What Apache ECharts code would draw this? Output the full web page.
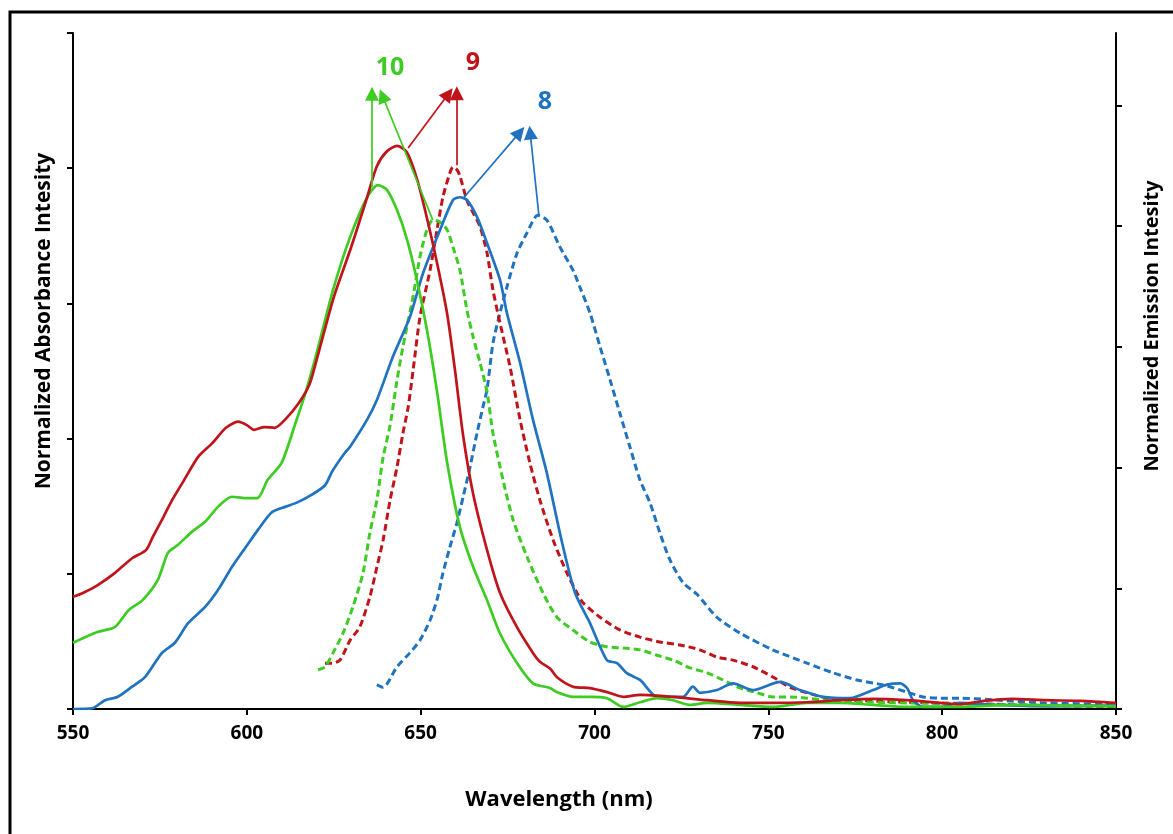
<!DOCTYPE html>
<html>
<head>
<meta charset="utf-8">
<script src="https://cdn.jsdelivr.net/npm/echarts@6/dist/echarts.min.js"></script>
<style>html,body{margin:0;padding:0;background:#fff}#c{width:1173px;height:834px}</style>
</head>
<body>
<div id="c"></div>
<script>
// ---- data: [wavelength (nm), normalized intensity] ----
const xTicks = [550, 600, 650, 700, 750, 800, 850];
const xName = 'Wavelength (nm)';
const yLeftName = 'Normalized Absorbance Intesity';
const yRightName = 'Normalized Emission Intesity';
const labels = ['10', '9', '8'];

// Absorbance (solid, left axis)
const abs9 = [[550,0.166],[553,0.172],[557,0.183],[562,0.201],[567,0.223],[571,0.235],[573,0.255],[576,0.284],[578.5,0.309],[582,0.339],[586,0.373],[590,0.393],[594,0.416],[597.5,0.425],[600,0.420],[602,0.413],[605,0.417],[608,0.416],[611,0.428],[615,0.453],[618,0.48],[620,0.515],[625,0.609],[630,0.683],[634.6,0.757],[637.4,0.803],[640.3,0.825],[643.2,0.833],[646,0.824],[649,0.783],[652,0.722],[654.7,0.660],[657.6,0.585],[659.9,0.500],[662.2,0.405],[665.1,0.318],[669.1,0.235],[672.8,0.172],[677.7,0.121],[682.3,0.083],[684.5,0.069],[687.2,0.060],[689.2,0.047],[693.8,0.033],[698.7,0.031],[703.6,0.025],[708.2,0.018],[713.1,0.021],[722.6,0.018],[732.4,0.013],[741.8,0.009],[751.3,0.009],[761.1,0.010],[770.6,0.013],[780.1,0.015],[789.9,0.013],[799.4,0.009],[805,0.007],[812,0.012],[820,0.015],[830,0.013],[840,0.012],[850,0.009]];
const abs10 = [[550,0.098],[557,0.114],[562,0.121],[566,0.146],[570,0.161],[574.4,0.191],[577.3,0.231],[580.2,0.243],[584.2,0.262],[588,0.277],[591.7,0.299],[595.7,0.314],[599.5,0.312],[603,0.312],[606,0.339],[610,0.364],[614,0.423],[617,0.47],[620,0.525],[624.8,0.620],[629.7,0.698],[634.6,0.757],[637.7,0.775],[640.3,0.768],[643.2,0.738],[646.1,0.694],[648.9,0.635],[651.8,0.561],[654.7,0.470],[657.6,0.365],[661.3,0.269],[665.1,0.210],[669.1,0.161],[672.8,0.112],[677.7,0.068],[682.3,0.038],[687.2,0.031],[689.2,0.025],[693.8,0.018],[698.7,0.018],[703.6,0.016],[708.2,0.003],[713.1,0.010],[718,0.016],[722.6,0.013],[727.5,0.006],[732.4,0.009],[741.8,0.006],[751.3,0.003],[761.1,0.009],[770.6,0.009],[780.1,0.006],[789.9,0.003],[805,0.003],[820,0.006],[835,0.005],[850,0.004]];
const abs8 = [[550,0.000],[555.5,0.001],[559.2,0.013],[562.9,0.018],[567,0.033],[570.7,0.047],[575.6,0.083],[579.3,0.098],[583.1,0.127],[588,0.151],[591.7,0.176],[595.7,0.210],[599.5,0.238],[603.2,0.265],[607.2,0.291],[611,0.299],[614.7,0.306],[618.7,0.317],[622.5,0.331],[624.5,0.351],[628.2,0.379],[629.7,0.388],[634.6,0.428],[637.4,0.457],[642,0.521],[646.9,0.580],[650.7,0.645],[655.6,0.709],[659.3,0.753],[661.3,0.757],[663.3,0.753],[666.2,0.728],[669.1,0.689],[672.8,0.635],[674.8,0.586],[678.6,0.512],[682.3,0.428],[686.3,0.349],[690.5,0.250],[694.4,0.172],[698.7,0.127],[703.6,0.072],[706.5,0.068],[709.3,0.053],[713.1,0.043],[718,0.018],[722.6,0.018],[725.5,0.018],[728.3,0.033],[730.3,0.024],[735.2,0.028],[739.8,0.038],[745.6,0.028],[753.4,0.040],[759.1,0.028],[765.7,0.018],[773.5,0.016],[780.1,0.028],[784.1,0.036],[787.9,0.038],[789.9,0.031],[791.6,0.013],[794.5,0.003],[799.4,0.003],[805,0.009],[815,0.006],[830,0.004],[850,0.005]];

// Emission (dashed, right axis)
const em9 = [[622.5,0.076],[624.5,0.076],[626.8,0.081],[629.7,0.114],[632.5,0.136],[635.4,0.186],[637.4,0.235],[639.2,0.280],[641.2,0.346],[643.2,0.401],[644.9,0.457],[646.4,0.500],[647.8,0.560],[649.8,0.649],[652.7,0.727],[654.7,0.794],[656.4,0.848],[658.4,0.888],[659.3,0.898],[660.5,0.893],[661.3,0.883],[663.3,0.843],[665.1,0.822],[667.1,0.799],[669.1,0.755],[670.8,0.694],[672.8,0.640],[675.7,0.567],[678.6,0.479],[681.4,0.408],[684.3,0.346],[688.1,0.280],[692.1,0.225],[695,0.192],[696.7,0.176],[701.6,0.152],[707.3,0.131],[713.1,0.119],[718.8,0.111],[724.6,0.106],[730.3,0.098],[735.2,0.086],[739.8,0.081],[745.6,0.070],[751.3,0.053],[756.2,0.036],[761.1,0.027],[766.9,0.018],[772.6,0.015],[785,0.012],[800,0.010],[815,0.008],[830,0.006],[850,0.004]];
const em10 = [[620.5,0.065],[622.5,0.070],[624.8,0.093],[627.7,0.126],[630.5,0.169],[633.4,0.225],[635.4,0.292],[637.4,0.346],[639.2,0.417],[641.2,0.470],[643.2,0.545],[644.9,0.600],[647.8,0.683],[649.8,0.749],[651.8,0.794],[653.5,0.810],[655.6,0.807],[657.6,0.794],[659.3,0.765],[661.3,0.727],[663.3,0.661],[665.1,0.616],[667.1,0.573],[669.1,0.525],[670.8,0.457],[673.7,0.379],[676.6,0.313],[680.6,0.252],[685.2,0.192],[689.2,0.152],[693.8,0.131],[698.7,0.111],[703.6,0.103],[708.2,0.101],[713.1,0.098],[718,0.089],[722.6,0.081],[727.5,0.068],[732.4,0.060],[737,0.048],[741.8,0.035],[746.7,0.027],[751.3,0.020],[756.2,0.020],[761.1,0.018],[765.7,0.015],[775.5,0.012],[790,0.010],[810,0.008],[830,0.006],[850,0.005]];
const em8 = [[637.4,0.040],[639.2,0.036],[643.2,0.070],[646.9,0.093],[649.8,0.114],[652.7,0.147],[654.7,0.181],[656.4,0.225],[658.4,0.268],[660.4,0.308],[662.2,0.351],[664.2,0.401],[666.2,0.457],[667.9,0.500],[669.1,0.530],[670.8,0.606],[672.8,0.656],[674.8,0.699],[677.7,0.755],[680.6,0.789],[683.7,0.818],[686.3,0.810],[690.1,0.765],[693.8,0.727],[695.8,0.699],[698.7,0.656],[701.6,0.600],[704.5,0.545],[707.3,0.490],[710.2,0.434],[713.1,0.379],[716,0.341],[718.8,0.292],[721.7,0.247],[725.5,0.209],[729.5,0.190],[735.2,0.152],[741.8,0.126],[751.3,0.098],[761.1,0.076],[768.6,0.060],[775.5,0.048],[783,0.040],[789.9,0.028],[794.5,0.020],[799.4,0.018],[805,0.018],[815,0.015],[830,0.010],[850,0.008]];

// Arrows (start on peak, end at arrow tip), in each series' own axis units
const arrowAbs10 = [[636.0,0.772],[636.0,0.910]];
const arrowEm10  = [[653.5,0.810],[639.0,1.016]];
const arrowAbs9  = [[646.4,0.830],[658.0,0.910]];
const arrowEm9   = [[660.4,0.901],[660.4,1.020]];
const arrowAbs8  = [[662.5,0.757],[678.5,0.853]];
const arrowEm8   = [[684.0,0.818],[681.5,0.955]];

const RED = '#c0141b', GREEN = '#3ccc22', BLUE = '#1f73c0';
const FONT = 'Open Sans';

function arrow(pts, color) {
  return {
    silent: true, animation: false,
    symbol: ['none', 'triangle'], symbolSize: 14,
    label: {show: false},
    lineStyle: {color: color, width: 1.7, type: 'solid', opacity: 1},
    itemStyle: {color: color},
    emphasis: {disabled: true},
    data: [[{coord: pts[0]}, {coord: pts[1]}]]
  };
}
function solid(name, data, color, arr) {
  return {name, type: 'line', data, yAxisIndex: 0, showSymbol: false, smooth: 0.25,
    lineStyle: {color, width: 2.7}, itemStyle: {color}, markLine: arrow(arr, color), z: 3};
}
function dashed(name, data, color, arr) {
  return {name, type: 'line', data, yAxisIndex: 1, showSymbol: false, smooth: 0.25,
    lineStyle: {color, width: 3, type: [7, 4]}, itemStyle: {color}, markLine: arrow(arr, color), z: 2};
}

const chart = echarts.init(document.getElementById('c'), null, {renderer: 'canvas'});
chart.setOption({
  animation: false,
  backgroundColor: '#fff',
  grid: {left: 73, right: 57, top: 33, bottom: 125, containLabel: false},
  xAxis: {
    type: 'value', min: 550, max: 850, interval: 50,
    name: xName, nameLocation: 'middle', nameGap: 80,
    nameTextStyle: {fontFamily: FONT, fontWeight: 'bold', fontSize: 22, color: '#000', padding: [0, 71, 0, 0]},
    axisLine: {show: true, lineStyle: {color: '#000', width: 2}},
    axisTick: {show: true, length: 6, lineStyle: {color: '#000', width: 2}},
    axisLabel: {fontFamily: FONT, fontWeight: 'bold', fontSize: 19, color: '#000', margin: 15,
      customValues: xTicks},
    splitLine: {show: false}
  },
  yAxis: [{
    type: 'value', min: 0, max: 1, interval: 0.2, position: 'left',
    name: yLeftName, nameLocation: 'middle', nameGap: 18, nameRotate: 90,
    nameTextStyle: {fontFamily: FONT, fontWeight: 'bold', fontSize: 21, color: '#000', padding: [0, 0, 0, 100]},
    axisLine: {show: true, lineStyle: {color: '#000', width: 2}},
    axisTick: {show: true, length: 6, lineStyle: {color: '#000', width: 2}},
    axisLabel: {show: false},
    splitLine: {show: false}
  }, {
    type: 'value', min: 0, max: 1.12, interval: 0.2, position: 'right',
    name: yRightName, nameLocation: 'middle', nameGap: 26, nameRotate: 90,
    nameTextStyle: {fontFamily: FONT, fontWeight: 'bold', fontSize: 20, color: '#000', padding: [0, 0, 0, 90]},
    axisLine: {show: true, lineStyle: {color: '#000', width: 2}},
    axisTick: {show: true, length: 6, lineStyle: {color: '#000', width: 2}, customValues: [0, 0.2, 0.4, 0.6, 0.8, 1.0]},
    axisLabel: {show: false},
    splitLine: {show: false}
  }],
  graphic: [
    {type: 'rect', shape: {x: 10, y: 12, width: 1300, height: 1000}, style: {fill: 'none', stroke: '#000', lineWidth: 3}, silent: true},
    {type: 'text', x: 390, y: 68, style: {text: labels[0], fill: GREEN, font: 'bold 25px "Open Sans"', align: 'center', verticalAlign: 'middle'}},
    {type: 'text', x: 473, y: 63, style: {text: labels[1], fill: RED, font: 'bold 25px "Open Sans"', align: 'center', verticalAlign: 'middle'}},
    {type: 'text', x: 545, y: 102, style: {text: labels[2], fill: BLUE, font: 'bold 25px "Open Sans"', align: 'center', verticalAlign: 'middle'}}
  ],
  series: [
    dashed('Emission 8', em8, BLUE, arrowEm8),
    dashed('Emission 9', em9, RED, arrowEm9),
    dashed('Emission 10', em10, GREEN, arrowEm10),
    solid('Absorbance 8', abs8, BLUE, arrowAbs8),
    solid('Absorbance 10', abs10, GREEN, arrowAbs10),
    solid('Absorbance 9', abs9, RED, arrowAbs9)
  ]
});
</script>
</body>
</html>
